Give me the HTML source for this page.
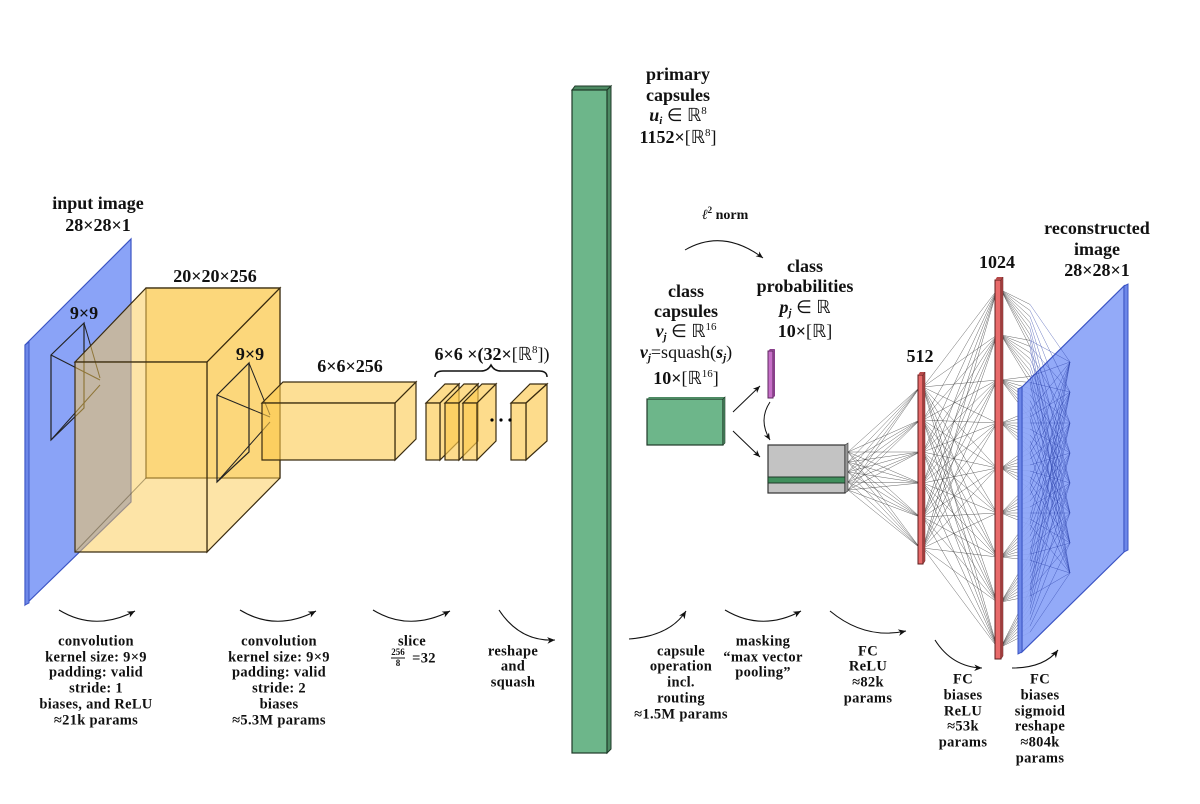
<!DOCTYPE html>
<html><head><meta charset="utf-8"><style>
html,body{margin:0;padding:0;background:#fff}
svg{display:block}
text{font-family:"Liberation Serif",serif;font-weight:bold;font-size:18px;fill:#111;text-anchor:middle;dominant-baseline:middle}
.n{font-weight:normal}
.b text{font-size:14.5px;letter-spacing:0.3px}
text.s{font-size:9px}
text.m{font-size:14px}
</style></head><body>
<svg id="s" width="1200" height="804" viewBox="0 0 1200 804" xmlns="http://www.w3.org/2000/svg">
<defs><marker id="a" markerWidth="8" markerHeight="8" refX="7" refY="4" orient="auto"><path d="M0,1 L7,4 L0,7 L2,4z" fill="#111"/></marker></defs>

<!-- input image -->
<polygon points="25,345 131,239 131,502 25,605" fill="#8aa3f7" stroke="#3b54c4" stroke-width="1.2"/>
<polygon points="25,345 29,342 29,603 25,605" fill="#6d87e8" stroke="#3b54c4" stroke-width="1"/>
<polygon points="51,355 84,323 84,408 51,440" fill="none" stroke="#222" stroke-width="1.2"/>
<line x1="51" y1="355" x2="100" y2="380" stroke="#222"/><line x1="84" y1="323" x2="100" y2="378" stroke="#222"/><line x1="51" y1="440" x2="100" y2="385" stroke="#222"/>

<!-- big cube -->
<g stroke="#3a2c10" stroke-width="1.2" fill="#fcc94f" fill-opacity="0.5">
<polygon points="146,288 280,288 280,478 146,478"/>
<polygon points="75,362 146,288 280,288 207,362"/>
<polygon points="207,362 280,288 280,478 207,552"/>
<polygon points="75,362 207,362 207,552 75,552"/>
</g>
<line x1="75" y1="552" x2="146" y2="478" stroke="#3a2c10" stroke-opacity=".4"/>
<polygon points="217,395 249,363 249,452 217,482" fill="none" stroke="#222" stroke-width="1.2"/>
<line x1="217" y1="395" x2="270" y2="417" stroke="#222"/><line x1="249" y1="363" x2="270" y2="415" stroke="#222"/><line x1="217" y1="482" x2="270" y2="422" stroke="#222"/>

<!-- middle box -->
<g stroke="#3a2c10" stroke-width="1.2" fill="#fcc94f" fill-opacity="0.6">
<polygon points="262,403 283,382 416,382 395,403"/>
<polygon points="395,403 416,382 416,439 395,460"/>
<polygon points="262,403 395,403 395,460 262,460"/>
</g>
<!-- slices -->
<g stroke="#3a2c10" stroke-width="1.2" fill="#fcc94f" fill-opacity="0.65">
<polygon points="426,403 445,384 459,384 440,403"/><polygon points="440,403 459,384 459,441 440,460"/><rect x="426" y="403" width="14" height="57"/>
<polygon points="445,403 464,384 478,384 459,403"/><polygon points="459,403 478,384 478,441 459,460"/><rect x="445" y="403" width="14" height="57"/>
<polygon points="463,403 482,384 496,384 477,403"/><polygon points="477,403 496,384 496,441 477,460"/><rect x="463" y="403" width="14" height="57"/>
<polygon points="511,403 530,384 547,384 526,403"/><polygon points="526,403 547,384 547,441 526,460"/><rect x="511" y="403" width="15" height="57"/>
</g>
<circle cx="492" cy="420" r="1.6"/><circle cx="501" cy="420" r="1.6"/><circle cx="510" cy="420" r="1.6"/>
<path d="M435,377 q0,-6 8,-6 h38 q7,0 10,-6 q3,6 10,6 h38 q8,0 8,6" fill="none" stroke="#111" stroke-width="1.5"/>

<!-- primary capsules -->
<polygon points="572,90 575,86 611,86 607,90" fill="#4d8a63" stroke="#1f3a28"/>
<polygon points="607,90 611,86 611,749 607,753" fill="#4d8a63" stroke="#1f3a28"/>
<rect x="572" y="90" width="35" height="663" fill="#6db68a" stroke="#1f3a28" stroke-width="1.2"/>

<!-- class caps -->
<rect x="647" y="399" width="76" height="46" fill="#6db68a" stroke="#1f3a28" stroke-width="1.2"/>
<polygon points="647,399 649,397 725,397 723,399" fill="#4d8a63"/><polygon points="723,399 725,397 725,443 723,445" fill="#4d8a63" stroke="#1f3a28" stroke-width=".6"/>
<rect x="768" y="351" width="5" height="47" fill="#c76fc8" stroke="#5b2a5c"/>
<polygon points="768,351 770,349 775,349 773,351" fill="#8a3f8b"/><polygon points="773,351 775,349 775,396 773,398" fill="#8a3f8b"/>
<rect x="768" y="445" width="77" height="48" fill="#c3c3c3" stroke="#333" stroke-width="1.2"/>
<rect x="768" y="477" width="77" height="6" fill="#3f8f5c" stroke="#1f3a28"/>
<polygon points="845,445 848,443 848,491 845,493" fill="#999" stroke="#333" stroke-width=".6"/>
<line x1="733" y1="412" x2="760" y2="386" stroke="#111" marker-end="url(#a)"/>
<line x1="733" y1="431" x2="760" y2="457" stroke="#111" marker-end="url(#a)"/>
<path d="M770,402 q-12,18 0,38" fill="none" stroke="#111" marker-end="url(#a)"/>
<path d="M685,250 q38,-22 78,8" fill="none" stroke="#111" marker-end="url(#a)"/>

<g id="net" stroke="#333" stroke-width="0.5" stroke-opacity="0.75"></g>
<!-- output image -->
<polygon points="1022,387 1124,286 1124,552 1022,652" fill="#8aa3f7" fill-opacity="0.92" stroke="#3b54c4" stroke-width="1.2"/>
<polygon points="1124,286 1128,284 1128,550 1124,552" fill="#6d87e8" stroke="#3b54c4"/>
<polygon points="1018,389 1022,387 1022,652 1018,654" fill="#6d87e8" stroke="#3b54c4"/>
<g id="net2" stroke="#2a3fa8" stroke-width="0.5" stroke-opacity="0.7"></g>
<!-- red bars -->
<rect x="918" y="375" width="5" height="189" fill="#e86a6a" stroke="#5b1c1c"/>
<polygon points="918,375 920,372 925,372 923,375" fill="#b54848"/><polygon points="923,375 925,372 925,561 923,564" fill="#b54848" stroke="#5b1c1c" stroke-width=".5"/>
<rect x="995" y="280" width="6" height="379" fill="#e86a6a" stroke="#5b1c1c"/>
<polygon points="995,280 997,277 1003,277 1001,280" fill="#b54848"/><polygon points="1001,280 1003,277 1003,656 1001,659" fill="#b54848" stroke="#5b1c1c" stroke-width=".5"/>

<!-- top labels -->
<text x="98" y="205">input image</text><text x="98" y="227">28×28×1</text>
<text x="84" y="315">9×9</text>
<text x="215" y="278">20×20×256</text>
<text x="250" y="356">9×9</text>
<text x="350" y="368">6×6×256</text>
<text x="492" y="356">6×6 ×(32×<tspan class="n">[ℝ</tspan><tspan dy="-6" font-size="11" class="n">8</tspan><tspan dy="6" class="n">])</tspan></text>
<text x="678" y="76">primary</text><text x="678" y="97">capsules</text>
<text x="678" y="117"><tspan font-style="italic">u<tspan font-size="11" dy="4">i</tspan></tspan><tspan dy="-4" class="n"> ∈ ℝ</tspan><tspan dy="-6" font-size="11" class="n">8</tspan></text>
<text x="678" y="139">1152×<tspan class="n">[ℝ</tspan><tspan dy="-6" font-size="11" class="n">8</tspan><tspan dy="6" class="n">]</tspan></text>
<text x="725" y="216" class="m"><tspan font-style="italic" class="n">ℓ</tspan><tspan dy="-5" font-size="9">2</tspan><tspan dy="5"> norm</tspan></text>
<text x="686" y="293">class</text><text x="686" y="313">capsules</text>
<text x="686" y="333"><tspan font-style="italic">v<tspan font-size="11" dy="4">j</tspan></tspan><tspan dy="-4" class="n"> ∈ ℝ</tspan><tspan dy="-6" font-size="11" class="n">16</tspan></text>
<text x="686" y="354"><tspan font-style="italic">v<tspan font-size="11" dy="4">j</tspan></tspan><tspan dy="-4" class="n">=squash(</tspan><tspan font-style="italic">s<tspan font-size="11" dy="4">j</tspan></tspan><tspan dy="-4" class="n">)</tspan></text>
<text x="686" y="380">10×<tspan class="n">[ℝ</tspan><tspan dy="-6" font-size="11" class="n">16</tspan><tspan dy="6" class="n">]</tspan></text>
<text x="805" y="268">class</text><text x="805" y="288">probabilities</text>
<text x="805" y="309"><tspan font-style="italic">p<tspan font-size="11" dy="4">j</tspan></tspan><tspan dy="-4" class="n"> ∈ ℝ</tspan></text>
<text x="805" y="333">10×<tspan class="n">[ℝ]</tspan></text>
<text x="920" y="358">512</text>
<text x="997" y="264">1024</text>
<text x="1097" y="230">reconstructed</text><text x="1097" y="251">image</text><text x="1097" y="272">28×28×1</text>

<!-- bottom arcs -->
<g fill="none" stroke="#111" stroke-width="1.1">
<path d="M59,610 Q95,632 135,611" marker-end="url(#a)"/>
<path d="M240,610 Q276,632 316,611" marker-end="url(#a)"/>
<path d="M373,610 Q409,632 450,611" marker-end="url(#a)"/>
<path d="M499,610 Q520,642 555,640" marker-end="url(#a)"/>
<path d="M629,639 Q670,636 686,611" marker-end="url(#a)"/>
<path d="M725,610 Q762,632 801,611" marker-end="url(#a)"/>
<path d="M830,611 Q865,640 906,631" marker-end="url(#a)"/>
<path d="M935,640 Q952,667 982,668" marker-end="url(#a)"/>
<path d="M1012,668 Q1044,668 1058,650" marker-end="url(#a)"/>
</g>
<g class="b">
<text x="96" y="642">convolution</text><text x="96" y="658">kernel size: 9×9</text><text x="96" y="673">padding: valid</text><text x="96" y="689">stride: 1</text><text x="96" y="705">biases, and ReLU</text><text x="96" y="721">≈21k params</text>
<text x="279" y="642">convolution</text><text x="279" y="658">kernel size: 9×9</text><text x="279" y="673">padding: valid</text><text x="279" y="689">stride: 2</text><text x="279" y="705">biases</text><text x="279" y="721">≈5.3M params</text>
<text x="412" y="642">slice</text>
<text x="424" y="659">=32</text>
<text x="513" y="652">reshape</text><text x="513" y="667">and</text><text x="513" y="683">squash</text>
<text x="681" y="652">capsule</text><text x="681" y="667">operation</text><text x="681" y="683">incl.</text><text x="681" y="699">routing</text><text x="681" y="715">≈1.5M params</text>
<text x="763" y="642">masking</text><text x="763" y="658">“max vector</text><text x="763" y="673">pooling”</text>
<text x="868" y="652">FC</text><text x="868" y="667">ReLU</text><text x="868" y="683">≈82k</text><text x="868" y="699">params</text>
<text x="963" y="680">FC</text><text x="963" y="696">biases</text><text x="963" y="712">ReLU</text><text x="963" y="727">≈53k</text><text x="963" y="743">params</text>
<text x="1040" y="680">FC</text><text x="1040" y="696">biases</text><text x="1040" y="712">sigmoid</text><text x="1040" y="727">reshape</text><text x="1040" y="743">≈804k</text><text x="1040" y="759">params</text>
</g>
<text x="398" y="653" class="s">256</text><line x1="391" y1="658" x2="405" y2="658" stroke="#111"/><text x="398" y="664" class="s">8</text>
</svg>
<script>
var NS="http://www.w3.org/2000/svg";
function L(g,x1,y1,x2,y2){var l=document.createElementNS(NS,"line");l.setAttribute("x1",x1);l.setAttribute("y1",y1);l.setAttribute("x2",x2);l.setAttribute("y2",y2);g.appendChild(l);}
var g=document.getElementById("net"),g2=document.getElementById("net2");
var a=[452,462,472,482,490],b=[387,420,452,483,517,548],c=[290,335,380,423,468,513,557,602,647],d=[362,392,423,453,483,513,543,573];
a.forEach(function(y){b.forEach(function(z){L(g,848,y,920,z);});});
b.forEach(function(y){c.forEach(function(z){L(g,923,y,997,z);});});
c.forEach(function(y){d.forEach(function(z){L(g,1001,y,1030,y+(z-y)*0.2);L(g2,1030,y+(z-y)*0.2,1070,z);});});
</script>
</body></html>
